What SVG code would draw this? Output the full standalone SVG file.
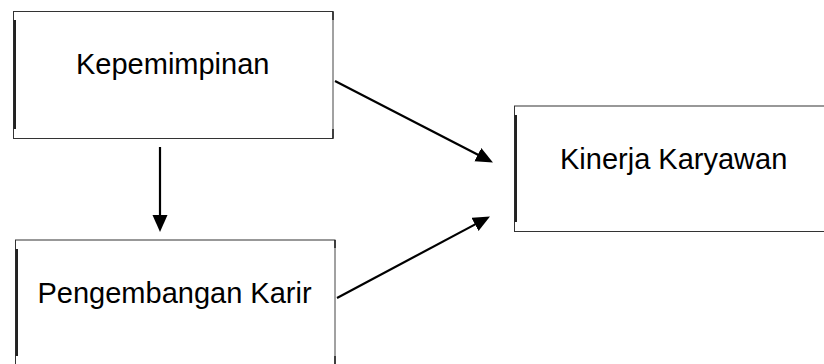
<svg xmlns="http://www.w3.org/2000/svg" width="824" height="364" viewBox="0 0 824 364">
<defs>
<style>
.box{fill:#fff;stroke:#333;stroke-width:1}
.bar{fill:#222}
.rside{stroke:#aaa;stroke-width:1}
.tick{stroke:#222;stroke-width:1.5}
.lbl{font-family:"Liberation Sans",Arial,sans-serif;font-size:29px;fill:#000}
.conn{stroke:#000;stroke-width:2.2;fill:none}
</style>
<marker id="ah" markerUnits="userSpaceOnUse" markerWidth="18" markerHeight="16" refX="5" refY="7.5" orient="auto">
<path d="M0,0 L17,7.5 L0,15 z" fill="#000"/>
</marker>
</defs>
<rect width="824" height="364" fill="#fff"/>
<g id="kepemimpinan">
<rect class="box" x="13.5" y="11.5" width="319.5" height="127"/>
<line class="rside" x1="333" y1="20" x2="333" y2="129"/>
<line class="tick" x1="333" y1="11.5" x2="333" y2="20"/>
<line class="tick" x1="333" y1="129" x2="333" y2="138.5"/>
<rect class="bar" x="13.5" y="20" width="2.5" height="109"/>
<text class="lbl" x="76" y="74">Kepemimpinan</text>
</g>
<g id="pengembangan">
<rect class="box" x="15.5" y="240" width="319.5" height="125"/>
<line class="rside" x1="335" y1="248" x2="335" y2="356"/>
<line class="tick" x1="335" y1="240" x2="335" y2="248"/>
<line class="tick" x1="335" y1="356" x2="335" y2="365"/>
<rect class="bar" x="15.5" y="249" width="2.5" height="107"/>
<text class="lbl" x="37.5" y="303">Pengembangan Karir</text>
</g>
<g id="kinerja">
<rect class="box" x="514.5" y="106" width="320" height="125.5"/>
<rect class="bar" x="514.5" y="115" width="2.5" height="107"/>
<text class="lbl" x="560" y="169">Kinerja Karyawan</text>
</g>
<g id="connectors">
<line class="conn" x1="335" y1="81" x2="482.3" y2="157" marker-end="url(#ah)"/>
<line class="conn" x1="337" y1="298" x2="479.4" y2="222.1" marker-end="url(#ah)"/>
<line class="conn" x1="160" y1="147" x2="160" y2="220" marker-end="url(#ah)"/>
</g>
</svg>
